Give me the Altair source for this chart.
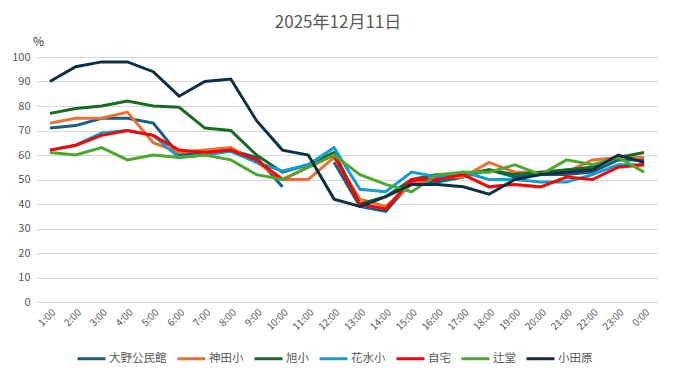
import altair as alt
import pandas as pd

hours = ["1:00", "2:00", "3:00", "4:00", "5:00", "6:00", "7:00", "8:00", "9:00", "10:00",
         "11:00", "12:00", "13:00", "14:00", "15:00", "16:00", "17:00", "18:00", "19:00",
         "20:00", "21:00", "22:00", "23:00", "0:00"]

series_names = ["大野公民館", "神田小", "旭小", "花水小", "自宅", "辻堂", "小田原"]
series_colors = ["#156082", "#E97132", "#196B24", "#0F9ED5", "#FF0000", "#4EA72E", "#0E3046"]

ohno = [71, 72, 75, 75, 73, 60, 61, 62, 59, 47, None, 57, 39, 37, 49, 49, 51, 54, 51, 52, 52, 53, 58, 58]
kanda = [73, 75, 75, 77.5, 65, 61, 62, 63, 57, 50, 50, 59, 42, 39, 48, 51, 51, 57, 53, 53, 53, 58, 59, 59]
asahi = [77, 79, 80, 82, 80, 79.5, 71, 70, 60, 53, 56, 61, 40, 43, 50, 52, 52, 54, 52, 53, 54, 55, 59, 61]
hanamizu = [62, 64, 69, 70, 68, 59, 60, 61.5, 57, 53.5, 56, 63, 46, 45, 53, 51, 53, 50, 50, 49, 49, 52, 56, 56]
jitaku = [62, 64, 68, 70, 68, 62, 61, 62, 58, 50, 55, 60, 40, 38, 50, 50, 52, 47, 48, 47, 51, 50, 55, 56]
tsujido = [61, 60, 63, 58, 60, 59, 60, 58, 52, 50, 55, 60, 52, 48, 45, 52, 53, 53, 56, 52, 58, 56, 59, 53]
odawara = [90, 96, 98, 98, 94, 84, 90, 91, 74, 62, 60, 42, 39, 43, 48, 48, 47, 44, 50, 52, 53, 54, 60, 57]

all_values = [ohno, kanda, asahi, hanamizu, jitaku, tsujido, odawara]

rows = []
for name, vals in zip(series_names, all_values):
    for h, v in zip(hours, vals):
        rows.append({"hour": h, "series": name, "value": v})
df = pd.DataFrame(rows)

FONT = "Noto Sans CJK JP"

chart = alt.Chart(df).mark_line(strokeWidth=3, invalid="break-paths-filter-domains").encode(
    x=alt.X("hour:O", sort=hours, scale=alt.Scale(type="point", padding=0.5),
            axis=alt.Axis(title=None, labelAngle=-45, labelFontSize=10, labelColor="#595959",
                          ticks=False, domain=False, labelPadding=5, labelFont=FONT)),
    y=alt.Y("value:Q", scale=alt.Scale(domain=[0, 100], nice=False),
            axis=alt.Axis(values=list(range(0, 101, 10)), title="%", titleAngle=0,
                          titleX=1, titleY=-9, titleAlign="center", titleBaseline="bottom",
                          titleFontSize=12, titleFontWeight="normal", titleColor="#333333",
                          titleFont=FONT,
                          labelFontSize=11, labelColor="#595959", labelPadding=7, labelFont=FONT,
                          ticks=False, domain=False, gridColor="#D9D9D9", gridWidth=1)),
    color=alt.Color("series:N", sort=series_names,
                    scale=alt.Scale(domain=series_names, range=series_colors),
                    legend=alt.Legend(title=None, orient="none", direction="horizontal",
                                      legendX=39, legendY=286,
                                      symbolType="stroke", symbolSize=784, symbolStrokeWidth=3,
                                      labelFontSize=11.5, labelColor="#595959", labelFont=FONT,
                                      labelOffset=2, columnPadding=4)),
).properties(
    width=620,
    height=245,
    title=alt.TitleParams("2025年12月11日", fontSize=17, color="#595959", font=FONT,
                          fontWeight="normal", anchor="middle", dx=-9, offset=3),
    autosize=alt.AutoSizeParams(type="none"),
    padding={"left": 29, "top": 49, "right": 14, "bottom": 63},
).configure_view(stroke=None)

chart.save("out.html", embed_options={"renderer": "svg", "actions": False})
